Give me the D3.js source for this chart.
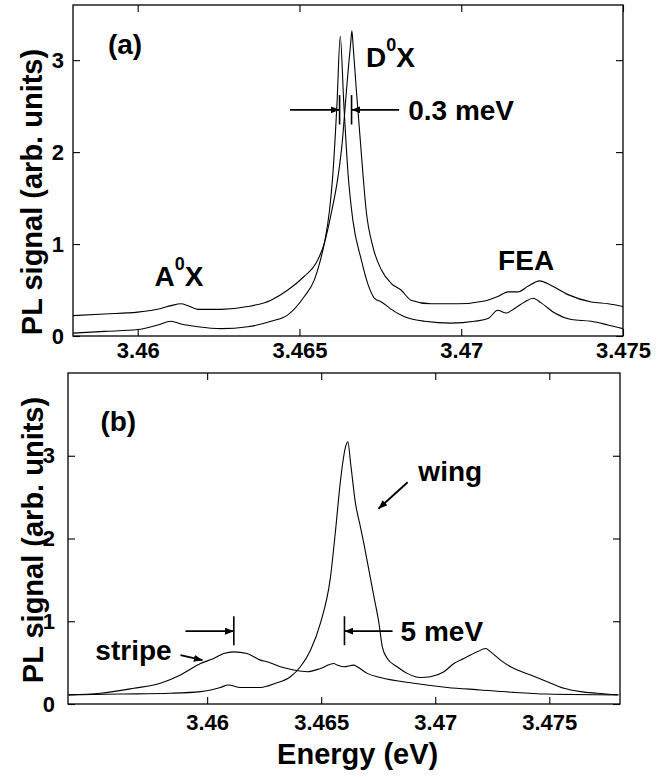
<!DOCTYPE html>
<html>
<head>
<meta charset="utf-8">
<script src="https://cdn.jsdelivr.net/npm/d3@7"></script>
<style>
  body { margin: 0; background: #fff; }
  svg { display: block; font-family: "Liberation Sans", Arial, Helvetica, sans-serif; font-weight: bold; }
  .curve { fill: none; stroke: #000; stroke-width: 1.1; }
  .frame { fill: none; stroke: #000; stroke-width: 1.3; }
  .axis line { stroke: #000; stroke-width: 1.1; }
  .axis text { font-size: 22px; font-weight: bold; fill: #000; }
  .anno { font-size: 28px; fill: #000; }
  .title { font-size: 29px; fill: #000; }
  .arrow { stroke: #000; stroke-width: 1.8; fill: none; }
  .bar { stroke: #000; stroke-width: 1.6; }
</style>
</head>
<body>
<svg id="chart" width="668" height="777"></svg>
<script>
// ---- panel (a): two PL spectra around D0X ----
const aUpperE = [3.45794,3.45897,3.46000,3.46072,3.46103,3.46134,3.46155,3.46186,3.46258,3.46340,3.46412,3.46464,3.46515,3.46551,3.46577,3.46598,3.46619,3.46632,3.46642,3.46652,3.46658,3.46662,3.46666,3.46675,3.46696,3.46706,3.46727,3.46753,3.46784,3.46814,3.46845,3.46907,3.46990,3.47072,3.47113,3.47144,3.47175,3.47206,3.47242,3.47278,3.47330,3.47402,3.47454,3.47500];
const aUpperPL = [0.22,0.24,0.26,0.30,0.33,0.35,0.33,0.29,0.29,0.32,0.39,0.50,0.65,0.79,1.01,1.33,1.73,2.10,2.53,2.95,3.17,3.32,3.15,2.71,1.77,1.37,0.97,0.72,0.57,0.50,0.39,0.35,0.35,0.38,0.43,0.48,0.48,0.54,0.60,0.55,0.45,0.37,0.35,0.32];
const aLowerE = [3.45794,3.45897,3.46000,3.46062,3.46103,3.46134,3.46186,3.46258,3.46340,3.46412,3.46464,3.46515,3.46546,3.46562,3.46577,3.46593,3.46603,3.46616,3.46626,3.46637,3.46650,3.46665,3.46691,3.46711,3.46732,3.46753,3.46773,3.46784,3.46825,3.46887,3.46969,3.47041,3.47083,3.47113,3.47139,3.47165,3.47196,3.47222,3.47247,3.47289,3.47340,3.47402,3.47454,3.47500];
const aLowerPL = [0.03,0.05,0.07,0.12,0.16,0.13,0.10,0.08,0.10,0.16,0.23,0.43,0.61,0.79,1.01,1.37,1.75,2.53,3.26,2.53,1.77,1.26,0.83,0.57,0.41,0.37,0.32,0.29,0.21,0.16,0.14,0.16,0.19,0.28,0.25,0.30,0.37,0.41,0.36,0.25,0.18,0.16,0.12,0.08];

// ---- panel (b): wing and stripe spectra ----
const bWingE = [3.45392,3.45620,3.45839,3.45971,3.46058,3.46093,3.46146,3.46234,3.46300,3.46365,3.46409,3.46453,3.46497,3.46541,3.46563,3.46585,3.46607,3.46617,3.46629,3.46650,3.46672,3.46687,3.46709,3.46731,3.46753,3.46768,3.46790,3.46833,3.46877,3.46936,3.46979,3.47038,3.47082,3.47125,3.47184,3.47221,3.47243,3.47286,3.47330,3.47418,3.47491,3.47564,3.47637,3.47710,3.47804];
const bWingPL = [0.11,0.12,0.13,0.15,0.20,0.23,0.20,0.20,0.25,0.33,0.45,0.65,0.98,1.54,2.10,2.71,3.11,3.17,2.91,2.43,2.14,1.94,1.62,1.30,0.98,0.69,0.55,0.45,0.37,0.32,0.33,0.39,0.49,0.55,0.63,0.67,0.63,0.53,0.45,0.35,0.27,0.19,0.15,0.13,0.11];
const bStripeE = [3.45392,3.45532,3.45678,3.45795,3.45883,3.45971,3.46029,3.46073,3.46117,3.46175,3.46234,3.46263,3.46321,3.46380,3.46439,3.46497,3.46555,3.46570,3.46599,3.46643,3.46658,3.46702,3.46760,3.46906,3.47053,3.47199,3.47345,3.47491,3.47798];
const bStripePL = [0.11,0.13,0.19,0.25,0.35,0.49,0.55,0.61,0.63,0.61,0.53,0.51,0.45,0.41,0.39,0.43,0.49,0.47,0.45,0.47,0.45,0.37,0.32,0.25,0.20,0.17,0.14,0.12,0.11];

// ticks
const xTicksA = [3.46, 3.465, 3.47, 3.475];
const xTicksB = [3.46, 3.465, 3.47, 3.475];
const yTicks = [0, 1, 2, 3];

const svg = d3.select('#chart');

const defs = svg.append('defs');
defs.append('marker')
  .attr('id', 'head')
  .attr('viewBox', '0 0 10 8')
  .attr('refX', 10).attr('refY', 4)
  .attr('markerWidth', 9).attr('markerHeight', 7)
  .attr('markerUnits', 'userSpaceOnUse')
  .attr('orient', 'auto')
  .append('path').attr('d', 'M0,0L10,4L0,8Z').attr('fill', '#000');

const fmt = d => String(+d.toFixed(3));

function panel(cfg) {
  const x = d3.scaleLinear().domain(cfg.xDomain).range([cfg.left, cfg.right]);
  const y = d3.scaleLinear().domain(cfg.yDomain).range([cfg.bottom, cfg.top]);
  const g = svg.append('g');

  const clipId = 'clip-' + cfg.name;
  defs.append('clipPath').attr('id', clipId)
    .append('rect')
    .attr('x', cfg.left).attr('y', cfg.top)
    .attr('width', cfg.right - cfg.left).attr('height', cfg.bottom - cfg.top);

  // axes, ticks pointing inwards on all four sides
  const tk = 7;
  g.append('g').attr('class', 'axis')
    .attr('transform', `translate(0,${cfg.bottom})`)
    .call(d3.axisBottom(x).tickValues(cfg.xTicks).tickFormat(fmt).tickSize(-tk).tickPadding(cfg.xPad))
    .call(a => a.select('.domain').remove());
  g.append('g').attr('class', 'axis')
    .attr('transform', `translate(0,${cfg.top})`)
    .call(d3.axisTop(x).tickValues(cfg.xTicks).tickFormat('').tickSize(-tk))
    .call(a => a.select('.domain').remove());
  g.append('g').attr('class', 'axis')
    .attr('transform', `translate(${cfg.left},0)`)
    .call(d3.axisLeft(y).tickValues(yTicks).tickFormat(d3.format('d')).tickSize(-tk).tickPadding(cfg.yPad))
    .call(a => a.select('.domain').remove());
  g.append('g').attr('class', 'axis')
    .attr('transform', `translate(${cfg.right},0)`)
    .call(d3.axisRight(y).tickValues(yTicks).tickFormat('').tickSize(-tk))
    .call(a => a.select('.domain').remove());

  const line = d3.line().x(d => x(d[0])).y(d => y(d[1])).curve(d3.curveMonotoneX);
  const plot = g.append('g').attr('clip-path', `url(#${clipId})`);
  cfg.series.forEach(s => {
    plot.append('path').attr('class', 'curve')
      .datum(d3.zip(s.e, s.pl))
      .attr('d', line);
  });

  g.append('rect').attr('class', 'frame')
    .attr('x', cfg.left).attr('y', cfg.top)
    .attr('width', cfg.right - cfg.left).attr('height', cfg.bottom - cfg.top);

  // y title
  g.append('text').attr('class', 'title')
    .attr('text-anchor', 'middle')
    .attr('transform', `translate(${cfg.yTitleX},${cfg.yTitleY}) rotate(-90)`)
    .text('PL signal (arb. units)');

  // annotations (positions in data units)
  cfg.labels.forEach(l => {
    const t = g.append('text').attr('class', 'anno')
      .attr('x', x(l.e)).attr('y', y(l.pl));
    if (l.sup) {
      t.append('tspan').text(l.text[0]);
      t.append('tspan').attr('dy', -16).attr('font-size', 18).text(l.sup);
      t.append('tspan').attr('dy', 16).text(l.text.slice(1));
    } else {
      t.text(l.text);
    }
  });
  cfg.arrows.forEach(a => {
    g.append('line').attr('class', 'arrow')
      .attr('x1', x(a[0])).attr('y1', y(a[1]))
      .attr('x2', x(a[2])).attr('y2', y(a[3]))
      .attr('marker-end', 'url(#head)');
  });
  cfg.bars.forEach(b => {
    g.append('line').attr('class', 'bar')
      .attr('x1', x(b[0])).attr('x2', x(b[0]))
      .attr('y1', y(b[1])).attr('y2', y(b[2]));
  });
  return { x, y, g };
}

panel({
  name: 'a',
  left: 73, right: 623, top: 5, bottom: 336,
  xDomain: [3.458, 3.475], yDomain: [0, 3.6],
  xTicks: xTicksA, xPad: 6, yPad: 9,
  yTitleX: 42, yTitleY: 192,
  series: [{ e: aUpperE, pl: aUpperPL }, { e: aLowerE, pl: aLowerPL }],
  labels: [
    { text: '(a)', e: 3.45908, pl: 3.07 },
    { text: 'AX', sup: '0', e: 3.46052, pl: 0.54 },
    { text: 'DX', sup: '0', e: 3.46706, pl: 2.93 },
    { text: '0.3 meV', e: 3.46836, pl: 2.35 },
    { text: 'FEA', e: 3.47114, pl: 0.72 }
  ],
  arrows: [
    [3.46471, 2.46, 3.46624, 2.46],
    [3.46808, 2.46, 3.46661, 2.46]
  ],
  bars: [
    [3.46624, 2.30, 2.62],
    [3.46661, 2.30, 2.62]
  ]
});

const pb = panel({
  name: 'b',
  left: 68, right: 620, top: 373, bottom: 704,
  xDomain: [3.4539, 3.4781], yDomain: [0, 4],
  xTicks: xTicksB, xPad: 10, yPad: 13,
  yTitleX: 43, yTitleY: 540,
  series: [{ e: bWingE, pl: bWingPL }, { e: bStripeE, pl: bStripePL }],
  labels: [
    { text: '(b)', e: 3.45532, pl: 3.30 },
    { text: 'wing', e: 3.46926, pl: 2.70 },
    { text: '5 meV', e: 3.46848, pl: 0.76 },
    { text: 'stripe', e: 3.45510, pl: 0.53 }
  ],
  arrows: [
    [3.45905, 0.88, 3.46117, 0.88],
    [3.46813, 0.88, 3.46602, 0.88],
    [3.45883, 0.59, 3.45980, 0.53],
    [3.46879, 2.68, 3.46751, 2.36]
  ],
  bars: [
    [3.46117, 0.71, 1.06],
    [3.46602, 0.71, 1.06]
  ]
});

pb.g.append('text').attr('class', 'title')
  .attr('text-anchor', 'middle')
  .attr('x', pb.x(3.46660)).attr('y', 764)
  .text('Energy (eV)');
</script>
</body>
</html>
